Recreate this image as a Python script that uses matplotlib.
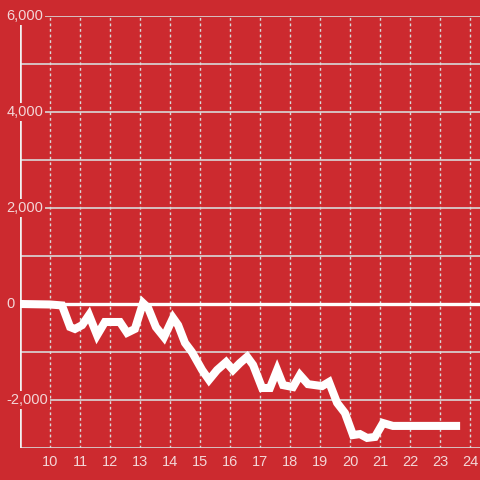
import matplotlib
matplotlib.use("Agg")
import matplotlib.pyplot as plt
import numpy as np

# hours vs. value
hours = [9.0, 10.0, 10.4, 10.67, 10.83, 11.07, 11.3, 11.57, 11.83, 12.33, 12.57, 12.83,
         13.1, 13.27, 13.53, 13.8, 14.1, 14.27, 14.5, 14.73, 15.07, 15.3, 15.57, 15.87,
         16.1, 16.33, 16.57, 16.77, 17.07, 17.33, 17.57, 17.77, 18.1, 18.33, 18.6, 19.07,
         19.3, 19.57, 19.83, 20.1, 20.33, 20.57, 20.83, 21.1, 21.43, 23.67]
values = [0, -10, -30, -480, -520, -440, -230, -650, -375, -375, -600, -520,
          20, -80, -480, -690, -290, -440, -810, -1000, -1375, -1580, -1375, -1210,
          -1375, -1230, -1100, -1270, -1750, -1750, -1375, -1690, -1730, -1480, -1670, -1710,
          -1625, -2060, -2270, -2730, -2710, -2790, -2770, -2480, -2540, -2540]

x_ticks = list(range(10, 25))
y_major = [6000, 4000, 2000, 0, -2000]
y_minor = [5000, 3000, 1000, -1000, -3000]

bg = "#cc2a2f"
grid_c = "#d9d9d9"
text_c = "#f3d6d7"

fig = plt.figure(figsize=(4.8, 4.8), dpi=100, facecolor=bg)
ax = fig.add_axes([20 / 480, 32 / 480, 460 / 480, 432 / 480])
ax.set_facecolor(bg)
ax.set_xlim(9.0, 24.333)
ax.set_ylim(-3000, 6000)
for s in ax.spines.values():
    s.set_visible(False)
ax.set_xticks([])
ax.set_yticks([])

# vertical dotted grid + hour labels
for t in x_ticks:
    ax.axvline(t, color=grid_c, lw=1, ls=(0, (2, 2)), zorder=1)
    ax.text(t, -3150, str(t), ha="center", va="top", fontsize=10.5, color=text_c,
            family="Liberation Sans", clip_on=False)

# horizontal grid
for v in y_major + y_minor:
    if v == 0:
        continue
    ax.axhline(v, color=grid_c, lw=1.2, zorder=1)
ax.axhline(0, color="white", lw=2.4, zorder=2)
ax.axvline(9.0, ymin=0, ymax=(6000 - 170 + 3000) / 9000, color="#f2f2f2", lw=2.6, zorder=2)

ax.plot(hours, values, color="white", lw=5.8, solid_capstyle="butt",
        solid_joinstyle="miter", zorder=3)

for v in y_major:
    ax.text(8.55, v, f"{v:,}", ha="left", va="center", fontsize=10.5, color=text_c,
            family="Liberation Sans", clip_on=False, zorder=5,
            bbox=dict(facecolor=bg, edgecolor="none", pad=1.5))

fig.savefig("out.png", dpi=100, facecolor=bg)
